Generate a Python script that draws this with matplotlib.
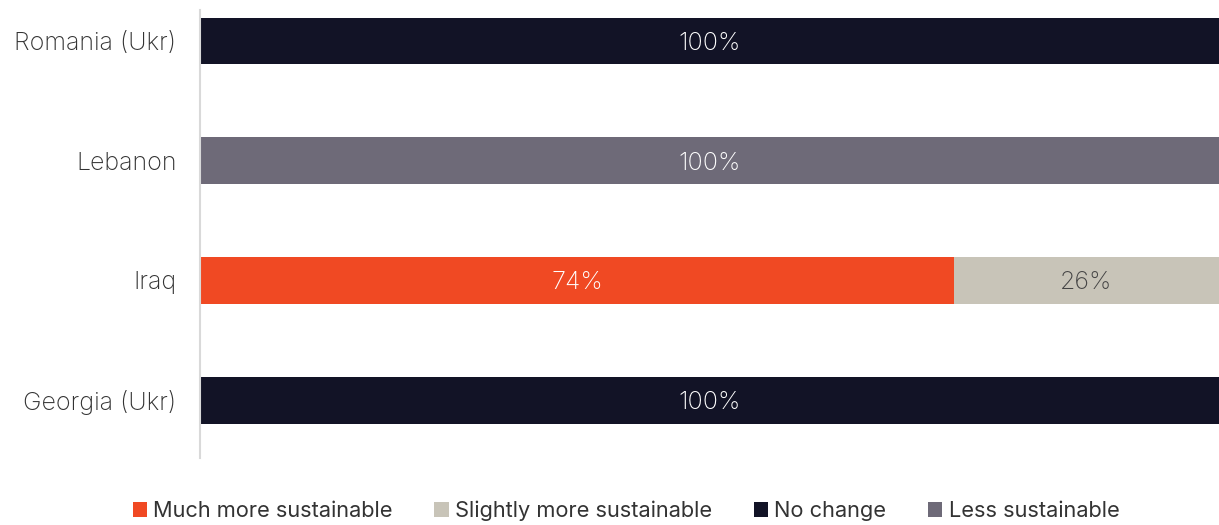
import matplotlib
matplotlib.use("Agg")
import matplotlib.pyplot as plt
from matplotlib.patches import Patch

categories = ["Georgia (Ukr)", "Iraq", "Lebanon", "Romania (Ukr)"]
series_names = ["Much more sustainable", "Slightly more sustainable", "No change", "Less sustainable"]
much_more = [0, 74, 0, 0]
slightly_more = [0, 26, 0, 0]
no_change = [100, 0, 0, 100]
less = [0, 0, 100, 0]
series = [much_more, slightly_more, no_change, less]
colors = ["#F04923", "#C8C4B8", "#121326", "#6E6A78"]
text_colors = ["white", "#444444", "white", "white"]

plt.rcParams['font.family'] = ['Inter', 'DejaVu Sans']

fig = plt.figure(figsize=(12.19, 5.25), dpi=100)
ax = fig.add_axes([200/1219, (525-458)/525, 1 - 200/1219, 448/525])

ypos = list(range(len(categories)))
left = [0]*len(categories)
for vals, col, tcol in zip(series, colors, text_colors):
    bars = ax.barh(ypos, vals, left=left, height=0.39, color=col)
    for b, v, l in zip(bars, vals, left):
        if v > 0:
            ax.text(l + v/2, b.get_y() + b.get_height()/2, f"{v}%", ha="center", va="center_baseline",
                    color=tcol, fontsize=18, fontweight="light")
    left = [a + b for a, b in zip(left, vals)]

ax.set_xlim(0, 100)
ax.set_ylim(-0.483, 3.258)
ax.set_yticks(ypos)
ax.set_yticklabels(categories, fontsize=18, color="#333333", va="center_baseline", fontweight="light")
ax.tick_params(axis="y", length=0, pad=17)
ax.set_xticks([])
for s in ["top", "right", "bottom"]:
    ax.spines[s].set_visible(False)
ax.spines["left"].set_color("#D9D9D9")
ax.spines["left"].set_linewidth(1.5)

handles = [Patch(facecolor=c, label=n) for c, n in zip(colors, series_names)]
fig.legend(handles=handles, loc="center", bbox_to_anchor=(626/1219, 1 - 511/525), ncol=4,
           frameon=False, fontsize=15.7, handlelength=0.65, handleheight=0.65, handletextpad=0.3,
           columnspacing=1.9, labelcolor="#333333")

fig.savefig("out.png", dpi=100)
